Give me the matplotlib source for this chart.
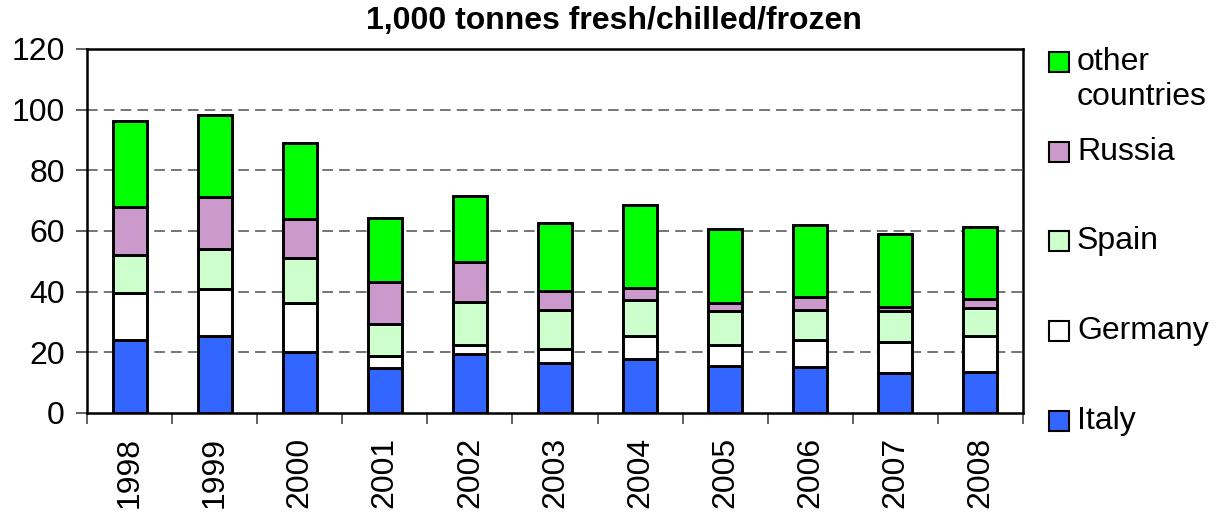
import numpy as np
import matplotlib
matplotlib.use("Agg")
from matplotlib import pyplot as plt
from matplotlib.patches import Rectangle

plt.rcParams['font.family'] = ['Liberation Sans', 'DejaVu Sans']

years = ['1998', '1999', '2000', '2001', '2002', '2003', '2004', '2005', '2006', '2007', '2008']
italy = [24.1, 25.5, 20.2, 14.9, 19.5, 16.6, 17.9, 15.5, 15.1, 13.2, 13.6]
germany = [15.4, 15.4, 16.0, 3.9, 2.9, 4.4, 7.5, 6.8, 9.0, 10.1, 11.7]
spain = [12.7, 13.2, 14.8, 10.5, 14.1, 13.0, 11.9, 11.2, 10.0, 10.3, 9.4]
russia = [15.8, 17.0, 13.0, 13.8, 13.3, 6.2, 3.9, 2.8, 4.0, 1.4, 2.8]
other = [28.4, 27.1, 24.9, 21.3, 21.8, 22.6, 27.4, 24.5, 23.8, 23.9, 23.7]

series = [('Italy', italy, '#3366FF'),
          ('Germany', germany, '#FFFFFF'),
          ('Spain', spain, '#CCFFCC'),
          ('Russia', russia, '#CC99CC'),
          ('other\ncountries', other, '#00FF00')]

W, H = 1219, 512
FS = 23
fig = plt.figure(figsize=(W / 100, H / 100), dpi=100)
ax = fig.add_axes([87 / W, 1 - 413 / H, (1023 - 87) / W, (413 - 49) / H])

x = np.arange(len(years))
bottom = np.zeros(len(years))
for name, vals, col in series:
    ax.bar(x, vals, 0.4, bottom=bottom, color=col, edgecolor='black', linewidth=2.1, zorder=3)
    bottom += np.array(vals)

ax.set_xlim(-0.5, len(years) - 0.5)
ax.set_ylim(0, 120)
ax.set_yticks(np.arange(0, 121, 20))
ax.set_xticks(x)
ax.set_xticklabels(years, rotation=90, fontsize=FS)
ax.set_xticks(np.arange(-0.5, len(years), 1), minor=True)
ax.tick_params(axis='x', which='major', length=0, pad=17)
ax.tick_params(axis='x', which='minor', length=8, width=1.3, color='#555555', direction='out')
ax.tick_params(axis='y', labelsize=FS, length=8, width=1.3, color='#555555', pad=8)

for y in range(20, 120, 20):
    ax.axhline(y, color='#505050', linewidth=1.1, dashes=(7, 4), zorder=1)

for s in ax.spines.values():
    s.set_linewidth(1.8)
    s.set_color('black')

fig.text(614 / W, 1 - 21 / H, '1,000 tonnes fresh/chilled/frozen', ha='center', va='center',
         fontsize=FS, fontweight='bold')

# legend, drawn by hand to keep Excel-like spacing
leg_y = [421, 331, 241, 152, 62]
for (name, vals, col), yc in zip(series, leg_y):
    fig.patches.append(Rectangle((1049 / W, 1 - (yc + 10) / H), 20 / W, 20 / H,
                                 facecolor=col, edgecolor='black', linewidth=1.5,
                                 transform=fig.transFigure, figure=fig))
    if '\n' in name:
        fig.text(1077 / W, 1 - (yc - 15) / H, name, ha='left', va='top', fontsize=FS,
                 linespacing=1.22)
    else:
        fig.text(1077 / W, 1 - yc / H, name, ha='left', va='center', fontsize=FS)

fig.savefig('out.png', dpi=100)
